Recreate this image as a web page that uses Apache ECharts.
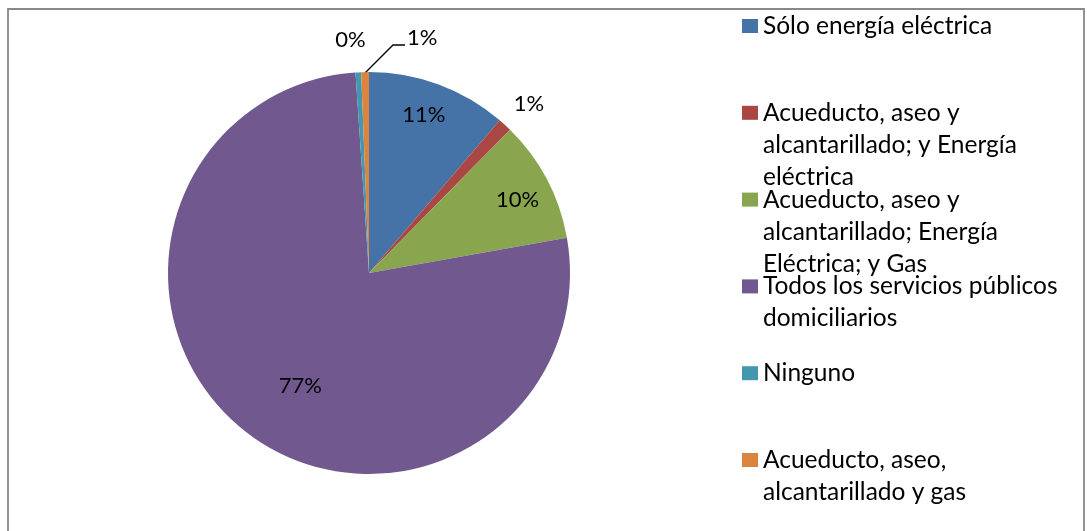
<!DOCTYPE html>
<html>
<head>
<meta charset="utf-8">
<script src="https://cdn.jsdelivr.net/npm/echarts@6/dist/echarts.min.js"></script>
<style>html,body{margin:0;padding:0;background:#fff}#c{width:1087px;height:531px}</style>
</head>
<body>
<div id="c"></div>
<script>
// ---- data ----
const categories = [
  'Sólo energía eléctrica',
  'Acueducto, aseo y alcantarillado; y Energía eléctrica',
  'Acueducto, aseo y alcantarillado; Energía Eléctrica; y Gas',
  'Todos los servicios públicos domiciliarios',
  'Ninguno',
  'Acueducto, aseo, alcantarillado y gas'
];
const legendLabels = [
  'Sólo energía eléctrica',
  'Acueducto, aseo y\nalcantarillado; y Energía\neléctrica',
  'Acueducto, aseo y\nalcantarillado; Energía\nEléctrica; y Gas',
  'Todos los servicios públicos\ndomiciliarios',
  'Ninguno',
  'Acueducto, aseo,\nalcantarillado y gas'
];
const values = [11.25, 1.1, 9.8, 76.6, 0.45, 0.62];
const colors = ['#4572A7', '#AA4643', '#89A54E', '#71588F', '#4198AF', '#DB843D'];

// ---- styling / layout helpers ----
const FONT = 'Lato, "Open Sans", sans-serif';
const LINE_H = 32;
// label offsets from the default inside-label position (style tweak)
const labelShift = [[19, -61], [90, -93], [57, -25], [-5, 31], [-13, -130], null];

const legends = categories.map((name, i) => {
  const n = legendLabels[i].split('\n').length;
  const iconTop = 19 + i * 86.8;
  // prepend blank lines so the first text line sits level with the icon
  const shown = '\n'.repeat(n - 1) + legendLabels[i];
  return {
    data: [name],
    orient: 'vertical',
    left: 742,
    top: iconTop - ((2 * n - 1) * LINE_H / 2 - 7),
    padding: 0,
    itemWidth: 16,
    itemHeight: 14,
    icon: 'rect',
    selectedMode: false,
    formatter: () => shown,
    textStyle: {
      fontFamily: FONT, fontSize: 24.5, color: '#000', lineHeight: LINE_H
    }
  };
});

const chart = echarts.init(document.getElementById('c'), null, {renderer: 'canvas'});
chart.setOption({
  animation: false,
  backgroundColor: '#fff',
  color: colors,
  legend: legends,
  graphic: [{
    type: 'rect', silent: true,
    shape: {x: 8, y: 9, width: 1076, height: 560},
    style: {fill: 'none', stroke: '#888', lineWidth: 1.8}
  }],
  series: [{
    type: 'pie',
    center: [369, 273],
    radius: 201,
    startAngle: 90,
    clockwise: true,
    avoidLabelOverlap: false,
    data: categories.map((name, i) => ({
      name, value: values[i],
      label: {position: i === 5 ? 'outside' : 'inside'},
      labelLine: {show: i === 5, lineStyle: {color: '#000', width: 1.3}}
    })),
    label: {
      show: true,
      fontFamily: FONT, fontSize: 22, color: '#000',
      formatter: p => Math.round(p.percent) + '%'
    },
    labelLayout: function (params) {
      const i = params.dataIndex;
      const lr = params.labelRect;
      if (i === 5) {
        const r = params.rect;
        const right = r.x + r.width;
        return {
          x: right + 38, y: r.y - 34, align: 'left', verticalAlign: 'middle',
          labelLinePoints: [[right - 4, r.y + 1], [right + 24, r.y - 27], [right + 36, r.y - 27]]
        };
      }
      const s = labelShift[i];
      return {
        x: lr.x + lr.width / 2 + s[0],
        y: lr.y + lr.height / 2 + s[1],
        align: 'center', verticalAlign: 'middle'
      };
    },
    itemStyle: {borderWidth: 0}
  }]
});
</script>
</body>
</html>
